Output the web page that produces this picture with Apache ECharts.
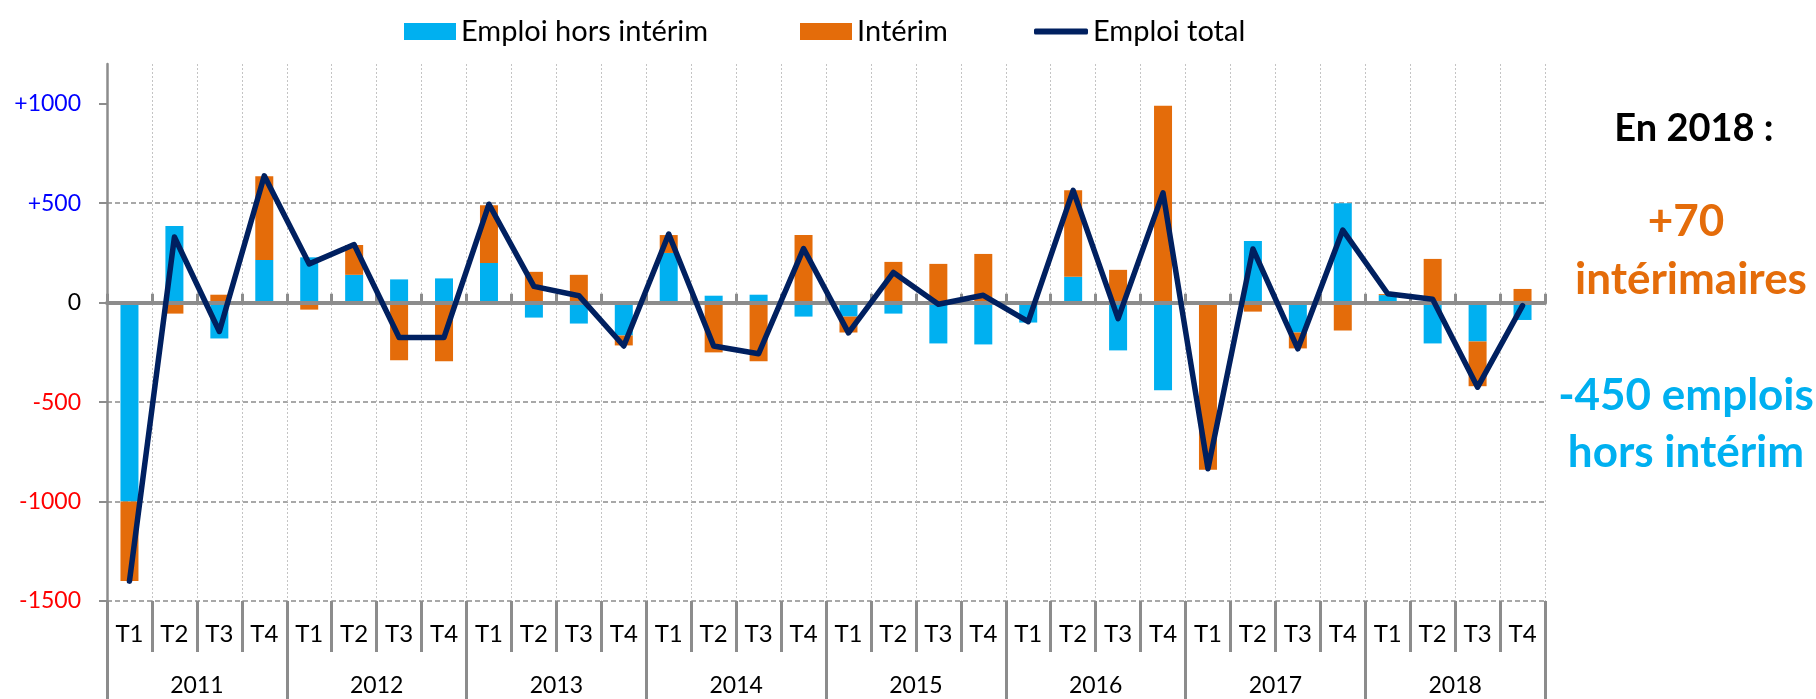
<!DOCTYPE html>
<html>
<head>
<meta charset="utf-8">
<script src="https://cdn.jsdelivr.net/npm/echarts@6/dist/echarts.min.js"></script>
<style>
    html, body { margin: 0; padding: 0; background: #fff; }
    #chart { width: 1816px; height: 699px; }
</style>
</head>
<body>
<div id="chart"></div>
<script>
// trimestres et années de l'axe
var trimestres = ['T1', 'T2', 'T3', 'T4', 'T1', 'T2', 'T3', 'T4', 'T1', 'T2', 'T3', 'T4', 'T1', 'T2', 'T3', 'T4',
    'T1', 'T2', 'T3', 'T4', 'T1', 'T2', 'T3', 'T4', 'T1', 'T2', 'T3', 'T4', 'T1', 'T2', 'T3', 'T4'];
var annees = ['2011', '2012', '2013', '2014', '2015', '2016', '2017', '2018'];
var yTicks = [-1500, -1000, -500, 0, 500, 1000];

// variations trimestrielles (nombre d'emplois)
var horsInterim = [-1000, 385, -180, 215, 228, 140, 117, 122, 200, -75, -105, -165, 250, 35, 40, -70,
    -70, -55, -205, -210, -100, 130, -240, -440, 5, 310, -150, 500, 38, -205, -195, -87];
var interim = [-400, -55, 40, 420, -35, 150, -290, -295, 290, 155, 140, -50, 90, -250, -295, 340,
    -80, 205, 195, 245, 5, 435, 165, 990, -840, -45, -80, -140, 5, 220, -225, 69];
var emploiTotal = [-1400, 330, -145, 638, 195, 292, -175, -175, 495, 82, 35, -218, 345, -218, -257, 272,
    -152, 152, -8, 37, -95, 565, -80, 552, -835, 270, -232, 365, 45, 17, -425, -15];

var police = 'Lato';
var gris = '#8c8c8c';

var myChart = echarts.init(document.getElementById('chart'));

var option = {
    animation: false,
    textStyle: { fontFamily: police },
    legend: [
        {
            left: 399, top: 12, itemWidth: 52, itemHeight: 17, selectedMode: false,
            textStyle: { fontSize: 29, color: '#000', fontFamily: police },
            data: [{ name: 'Emploi hors intérim', icon: 'rect' }]
        },
        {
            left: 795, top: 12, itemWidth: 52, itemHeight: 17, selectedMode: false,
            textStyle: { fontSize: 29, color: '#000', fontFamily: police },
            data: [{ name: 'Intérim', icon: 'rect' }]
        },
        {
            left: 1029, top: 12, itemWidth: 54, itemHeight: 6, selectedMode: false,
            textStyle: { fontSize: 29, color: '#000', fontFamily: police },
            data: [{ name: 'Emploi total', icon: 'roundRect' }]
        }
    ],
    grid: {
        left: 107,
        right: 271,
        top: 64,
        bottom: 98
    },
    xAxis: [
        {
            // trimestres
            type: 'category',
            data: trimestres,
            position: 'bottom',
            axisLine: { show: false, onZero: false },
            axisTick: { show: true, interval: 0, length: 51, lineStyle: { color: gris, width: 3 } },
            axisLabel: { interval: 0, fontSize: 24, color: '#000', margin: 33, verticalAlign: 'middle' },
            splitLine: { show: true, interval: 0, lineStyle: { color: '#c4c4c4', width: 1, type: [2, 2] } }
        },
        {
            // années
            type: 'category',
            data: annees,
            position: 'bottom',
            axisLine: { show: false, onZero: false },
            axisTick: { show: true, interval: 0, length: 98, lineStyle: { color: gris, width: 3 } },
            axisLabel: { interval: 0, fontSize: 23, color: '#000', margin: 85, verticalAlign: 'middle' },
            splitLine: { show: false }
        },
        {
            // ligne du zéro
            type: 'category',
            data: trimestres,
            position: 'bottom',
            z: 3,
            axisLine: { show: true, onZero: true, lineStyle: { color: gris, width: 4 } },
            axisTick: { show: true, inside: true, interval: 0, length: 9, lineStyle: { color: gris, width: 3 } },
            axisLabel: { show: false },
            splitLine: { show: false }
        }
    ],
    yAxis: {
        type: 'value',
        min: -1500,
        max: 1200,
        interval: 500,
        axisLine: { show: true, lineStyle: { color: gris, width: 2.5 } },
        axisTick: { show: true, length: 8, customValues: yTicks, lineStyle: { color: gris, width: 2 } },
        axisLabel: {
            customValues: yTicks,
            fontSize: 23,
            margin: 26,
            formatter: function (v) {
                v = Number(v);
                return v > 0 ? '+' + v : String(v);
            },
            color: function (v) {
                v = Number(v);
                if (v > 0) return '#0000ff';
                if (v < 0) return '#ff0000';
                return '#000';
            }
        },
        splitLine: { show: true, showMaxLine: false, lineStyle: { color: gris, width: 1.5, type: [5, 3] } }
    },
    graphic: [
        {
            type: 'text', x: 1694, y: 129,
            style: { text: 'En 2018 :', fill: '#000', font: 'bold 38px Lato', align: 'center', verticalAlign: 'middle' }
        },
        {
            type: 'text', x: 1686, y: 222,
            style: { text: '+70', fill: '#e46c0a', font: 'bold 44px Lato', align: 'center', verticalAlign: 'middle' }
        },
        {
            type: 'text', x: 1691, y: 280,
            style: { text: 'intérimaires', fill: '#e46c0a', font: 'bold 44px Lato', align: 'center', verticalAlign: 'middle' }
        },
        {
            type: 'text', x: 1686, y: 396,
            style: { text: '-450 emplois', fill: '#00b0f0', font: 'bold 44px Lato', align: 'center', verticalAlign: 'middle' }
        },
        {
            type: 'text', x: 1686, y: 453,
            style: { text: 'hors intérim', fill: '#00b0f0', font: 'bold 44px Lato', align: 'center', verticalAlign: 'middle' }
        }
    ],
    series: [
        {
            name: 'Emploi hors intérim',
            type: 'bar',
            stack: 'emploi',
            barWidth: 18,
            itemStyle: { color: '#00b0f0' },
            data: horsInterim
        },
        {
            name: 'Intérim',
            type: 'bar',
            stack: 'emploi',
            barWidth: 18,
            itemStyle: { color: '#e46c0a' },
            data: interim
        },
        {
            name: 'Emploi total',
            type: 'line',
            symbol: 'none',
            z: 5,
            lineStyle: { color: '#002060', width: 5.5, join: 'round', cap: 'round' },
            itemStyle: { color: '#002060' },
            data: emploiTotal
        }
    ]
};

myChart.setOption(option);
</script>
</body>
</html>
